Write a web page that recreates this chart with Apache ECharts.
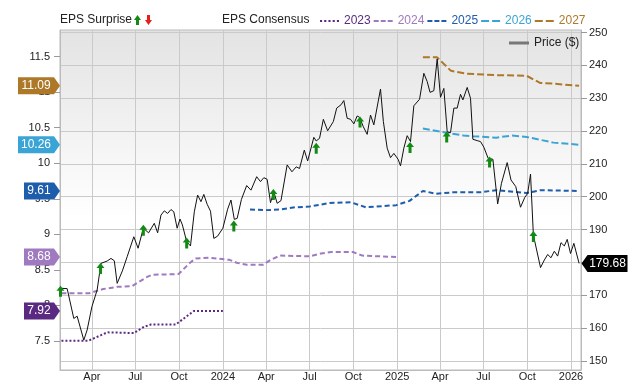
<!DOCTYPE html>
<html>
<head>
<meta charset="utf-8">
<script src="https://cdn.jsdelivr.net/npm/echarts@6.0.0/dist/echarts.min.js"></script>
<style>
    html, body { margin: 0; padding: 0; background: #fff; }
    #chart { width: 640px; height: 382px; }
</style>
</head>
<body>
<div id="chart"></div>
<script>
// axis range and tick labels
var xMin = '2023-01-24', xMax = '2026-01-22';
var epsTicks = [7.5, 8, 8.5, 9, 9.5, 10, 10.5, 11, 11.5];
var priceTicks = [150, 160, 170, 180, 190, 200, 210, 220, 230, 240, 250];
var monthNames = ['Jan', 'Feb', 'Mar', 'Apr', 'May', 'Jun', 'Jul', 'Aug', 'Sep', 'Oct', 'Nov', 'Dec'];
var years = ['2023', '2024', '2025', '2026', '2027'];

// weekly-ish closing price
var priceData = [
    ['2023-01-25', 172.1], ['2023-02-08', 172.0], ['2023-02-22', 162.9], ['2023-03-01', 163.6],
    ['2023-03-15', 156.3], ['2023-03-22', 159.4], ['2023-04-01', 166.5], ['2023-04-12', 171.6],
    ['2023-04-20', 179.7], ['2023-05-03', 180.4], ['2023-05-11', 181.2], ['2023-05-18', 180.5],
    ['2023-05-24', 173.6], ['2023-06-04', 177.4], ['2023-06-14', 181.7], ['2023-06-28', 187.8],
    ['2023-07-07', 184.3], ['2023-07-18', 190.4], ['2023-07-29', 189.0], ['2023-08-10', 191.9],
    ['2023-08-17', 189.0], ['2023-08-24', 194.4], ['2023-08-31', 195.7], ['2023-09-07', 194.9],
    ['2023-09-14', 196.1], ['2023-09-20', 195.4], ['2023-09-27', 190.4], ['2023-10-03', 193.2],
    ['2023-10-08', 191.4], ['2023-10-17', 186.3], ['2023-10-25', 185.0], ['2023-11-02', 195.4],
    ['2023-11-09', 200.5], ['2023-11-16', 198.5], ['2023-11-22', 200.7], ['2023-11-29', 197.7],
    ['2023-12-06', 195.6], ['2023-12-13', 187.3], ['2023-12-21', 188.0], ['2024-01-01', 190.4],
    ['2024-01-11', 196.2], ['2024-01-18', 199.0], ['2024-01-25', 193.1], ['2024-01-31', 193.4],
    ['2024-02-09', 199.2], ['2024-02-20', 203.4], ['2024-02-29', 202.0], ['2024-03-12', 206.1],
    ['2024-03-20', 204.6], ['2024-03-27', 205.8], ['2024-04-03', 205.3], ['2024-04-10', 198.2],
    ['2024-04-17', 201.5], ['2024-04-24', 198.0], ['2024-05-02', 198.8], ['2024-05-15', 209.7],
    ['2024-05-25', 207.6], ['2024-06-03', 209.1], ['2024-06-10', 208.6], ['2024-06-20', 214.2],
    ['2024-06-27', 210.9], ['2024-07-10', 218.1], ['2024-07-15', 217.0], ['2024-07-22', 217.8],
    ['2024-07-30', 223.6], ['2024-08-08', 220.1], ['2024-08-20', 222.9], ['2024-08-27', 227.0],
    ['2024-09-05', 228.0], ['2024-09-11', 229.3], ['2024-09-18', 223.9], ['2024-09-25', 223.6],
    ['2024-10-02', 222.2], ['2024-10-09', 224.6], ['2024-10-14', 224.2], ['2024-10-22', 221.3],
    ['2024-10-30', 219.0], ['2024-11-06', 224.9], ['2024-11-13', 221.9], ['2024-11-27', 232.8],
    ['2024-12-03', 222.9], ['2024-12-11', 214.8], ['2024-12-18', 211.9], ['2024-12-25', 213.2],
    ['2025-01-03', 211.4], ['2025-01-08', 209.4], ['2025-01-15', 214.8], ['2025-01-22', 218.6],
    ['2025-01-29', 216.8], ['2025-02-05', 227.7], ['2025-02-17', 229.7], ['2025-02-26', 237.6],
    ['2025-03-05', 235.1], ['2025-03-11', 231.8], ['2025-03-19', 232.3], ['2025-03-26', 242.0],
    ['2025-04-02', 230.3], ['2025-04-09', 233.0], ['2025-04-16', 219.8], ['2025-04-23', 219.5],
    ['2025-04-30', 227.0], ['2025-05-07', 227.0], ['2025-05-14', 231.2], ['2025-05-19', 229.5],
    ['2025-05-28', 233.3], ['2025-06-04', 230.0], ['2025-06-09', 217.5], ['2025-06-18', 217.1],
    ['2025-06-25', 216.8], ['2025-07-02', 215.1], ['2025-07-11', 211.7], ['2025-07-21', 211.4],
    ['2025-07-31', 197.8], ['2025-08-08', 204.1], ['2025-08-20', 210.4], ['2025-08-28', 205.1],
    ['2025-09-07', 203.1], ['2025-09-17', 196.8], ['2025-09-26', 199.8], ['2025-10-02', 201.0],
    ['2025-10-08', 206.9], ['2025-10-14', 188.3], ['2025-10-29', 178.4], ['2025-11-06', 180.7],
    ['2025-11-13', 182.4], ['2025-11-20', 181.4], ['2025-11-27', 183.4], ['2025-12-04', 181.9],
    ['2025-12-11', 186.0], ['2025-12-18', 185.0], ['2025-12-24', 187.0], ['2025-12-31', 182.7],
    ['2026-01-07', 185.8], ['2026-01-18', 179.68]
];

// earnings beats (green arrows)
var surpriseUp = [
    ['2023-01-25', 171.2], ['2023-04-19', 178.1], ['2023-07-18', 189.8], ['2023-10-17', 185.9],
    ['2024-01-24', 191.1], ['2024-04-16', 200.7], ['2024-07-15', 214.8], ['2024-10-15', 222.8],
    ['2025-01-28', 215.0], ['2025-04-15', 218.2], ['2025-07-14', 210.6], ['2025-10-14', 187.9]
];

// EPS consensus for each fiscal year
var eps2023 = [
    ['2023-01-27', 7.50], ['2023-03-24', 7.50], ['2023-04-20', 7.58], ['2023-05-03', 7.62],
    ['2023-06-28', 7.61], ['2023-07-20', 7.70], ['2023-08-03', 7.73], ['2023-09-24', 7.73],
    ['2023-10-20', 7.86], ['2023-11-01', 7.92], ['2024-01-01', 7.92]
];
var eps2024 = [
    ['2023-01-27', 8.17], ['2023-03-26', 8.17], ['2023-04-25', 8.23], ['2023-05-24', 8.26],
    ['2023-06-24', 8.27], ['2023-07-26', 8.40], ['2023-08-05', 8.43], ['2023-09-30', 8.44],
    ['2023-10-24', 8.60], ['2023-11-05', 8.66], ['2023-12-02', 8.67], ['2024-01-15', 8.64],
    ['2024-01-30', 8.60], ['2024-02-20', 8.57], ['2024-03-25', 8.57], ['2024-04-10', 8.64],
    ['2024-04-30', 8.70], ['2024-07-01', 8.69], ['2024-07-25', 8.73], ['2024-08-15', 8.75],
    ['2024-09-30', 8.75], ['2024-10-20', 8.70], ['2024-12-31', 8.68]
];
var eps2025 = [
    ['2024-02-27', 9.35], ['2024-04-01', 9.34], ['2024-04-30', 9.35], ['2024-06-01', 9.38],
    ['2024-07-01', 9.39], ['2024-08-12', 9.44], ['2024-09-26', 9.45], ['2024-10-27', 9.38],
    ['2024-12-30', 9.41], ['2025-01-27', 9.47], ['2025-02-24', 9.61], ['2025-03-24', 9.57],
    ['2025-04-28', 9.59], ['2025-06-23', 9.59], ['2025-07-28', 9.62], ['2025-09-30', 9.58],
    ['2025-10-28', 9.62], ['2026-01-18', 9.61]
];
var eps2026 = [
    ['2025-02-24', 10.49], ['2025-04-15', 10.43], ['2025-05-20', 10.39], ['2025-06-09', 10.38],
    ['2025-07-28', 10.36], ['2025-08-30', 10.39], ['2025-09-30', 10.37], ['2025-11-25', 10.29],
    ['2026-01-18', 10.26]
];
var eps2027 = [
    ['2025-02-24', 11.49], ['2025-03-26', 11.49], ['2025-04-24', 11.30], ['2025-05-26', 11.26],
    ['2025-07-28', 11.24], ['2025-09-30', 11.23], ['2025-10-28', 11.13], ['2025-11-25', 11.12],
    ['2026-01-18', 11.09]
];

var epsSeries = [eps2023, eps2024, eps2025, eps2026, eps2027];
var yearColors = ['#5a2a82', '#a07ac0', '#1d5dac', '#3aa4d6', '#ae7829'];
var yearDash = [[2, 2], [5, 3], [5, 3], [7, 3], [7, 3]];
var legendIcons = [
    'path://M0,0h2v2h-2zM4,0h2v2h-2zM8,0h2v2h-2zM12,0h2v2h-2zM16,0h2v2h-2z',
    'path://M0,0h5v2h-5zM7,0h5v2h-5zM14,0h5v2h-5z',
    'path://M0,0h5v2h-5zM7,0h5v2h-5zM14,0h5v2h-5z',
    'path://M0,0h8v2h-8zM11,0h8v2h-8z',
    'path://M0,0h8v2h-8zM11,0h8v2h-8z'
];
var upArrow = 'M4,0L8,5L5.5,5L5.5,11L2.5,11L2.5,5L0,5Z';
var green = '#138a13';

// small arrow polygon for the "EPS Surprise" key
function arrowPoints(x, y, up) {
    var pts = [[3.5, 0], [7, 5], [5, 5], [5, 10], [2, 10], [2, 5], [0, 5]];
    return pts.map(function (p) {
        return [x + p[0], up ? y + p[1] : y + 10 - p[1]];
    });
}

var dom = document.getElementById('chart');
var myChart = echarts.init(dom, null, { renderer: 'canvas' });

var series = [];
epsSeries.forEach(function (d, i) {
    series.push({
        name: years[i],
        type: 'line',
        yAxisIndex: 0,
        data: d,
        symbol: 'none',
        color: yearColors[i],
        lineStyle: { width: 2, type: yearDash[i] },
        z: 2
    });
});
series.push({
    name: 'Price ($)',
    type: 'line',
    yAxisIndex: 1,
    data: priceData,
    symbol: 'none',
    color: '#111',
    lineStyle: { width: 1 },
    z: 3
});
series.push({
    name: 'surprise',
    type: 'scatter',
    yAxisIndex: 1,
    data: surpriseUp,
    symbol: 'path://' + upArrow,
    symbolSize: [8, 11],
    itemStyle: { color: green, opacity: 1 },
    z: 4
});

// value badges on the left axis (last consensus of each year)
epsSeries.forEach(function (d, i) {
    var last = d[d.length - 1][1];
    var txt = last.toFixed(2);
    var w = 12 + txt.length * 6;
    series.push({
        type: 'scatter',
        yAxisIndex: 0,
        clip: false,
        silent: true,
        z: 6,
        data: [[xMin, last]],
        symbol: 'path://M0,0L' + (w - 6) + ',0L' + w + ',8.5L' + (w - 6) + ',17L0,17Z',
        symbolSize: [w, 17],
        symbolKeepAspect: false,
        symbolOffset: [-w / 2, 0],
        itemStyle: { color: yearColors[i], opacity: 1 },
        label: {
            show: true, position: 'inside', formatter: txt,
            color: '#fff', fontSize: 12, offset: [-3, 0]
        }
    });
});

// last price badge on the right axis
var lastPrice = priceData[priceData.length - 1][1];
series.push({
    type: 'scatter',
    yAxisIndex: 1,
    clip: false,
    silent: true,
    z: 6,
    data: [[xMax, lastPrice]],
    symbol: 'path://M6,0L46,0L46,17L6,17L0,8.5Z',
    symbolSize: [46, 17],
    symbolKeepAspect: false,
    symbolOffset: [23.5, 0],
    itemStyle: { color: '#000', opacity: 1 },
    label: {
        show: true, position: 'inside', formatter: lastPrice.toFixed(2),
        color: '#fff', fontSize: 12, offset: [3, 0]
    }
});

var option = {
    animation: false,
    textStyle: { fontFamily: 'Arial' },
    grid: {
        left: 60, right: 59, top: 30, bottom: 12,
        outerBoundsMode: 'none',
        show: true,
        borderColor: '#bbb',
        borderWidth: 1,
        backgroundColor: new echarts.graphic.LinearGradient(0, 0, 0, 1, [
            { offset: 0, color: '#e3e3e3' },
            { offset: 0.55, color: '#ffffff' }
        ])
    },
    graphic: [
        { type: 'text', left: 60, top: 14, style: { text: 'EPS Surprise', fontSize: 12, fontFamily: 'Arial', fill: '#222' } },
        { type: 'polygon', shape: { points: arrowPoints(134, 15, true) }, style: { fill: green } },
        { type: 'polygon', shape: { points: arrowPoints(145, 15, false) }, style: { fill: '#e8201c' } },
        { type: 'text', left: 222, top: 14, style: { text: 'EPS Consensus', fontSize: 12, fontFamily: 'Arial', fill: '#222' } }
    ],
    legend: [{
        data: years.map(function (y, i) {
            return { name: y, icon: legendIcons[i], textStyle: { color: yearColors[i] } };
        }),
        left: 315, top: 10,
        itemWidth: 19, itemHeight: 3, itemGap: 3,
        selectedMode: false,
        itemStyle: { borderWidth: 0 },
        textStyle: { fontSize: 12, fontFamily: 'Arial' }
    }, {
        data: [{ name: 'Price ($)', icon: 'rect', itemStyle: { color: '#777', borderWidth: 0 } }],
        left: 504, top: 32,
        itemWidth: 20, itemHeight: 3,
        selectedMode: false,
        textStyle: { fontSize: 12, color: '#222', fontFamily: 'Arial' }
    }],
    xAxis: {
        type: 'time',
        min: xMin,
        max: xMax,
        splitNumber: 10,
        axisLine: { lineStyle: { color: '#bbb' } },
        axisTick: { show: false },
        axisLabel: {
            fontSize: 11, color: '#222', margin: 1,
            formatter: function (v) {
                var d = new Date(v);
                return d.getMonth() === 0 ? String(d.getFullYear()) : monthNames[d.getMonth()];
            }
        },
        splitLine: { show: true, lineStyle: { color: '#cacaca' } }
    },
    yAxis: [{
        type: 'value',
        position: 'left',
        min: 7.09,
        max: 11.875,
        axisLine: { show: true, lineStyle: { color: '#bbb' } },
        axisTick: { show: true, length: 6, customValues: epsTicks, lineStyle: { color: '#999' } },
        axisLabel: { customValues: epsTicks, fontSize: 11, color: '#222', margin: 10 },
        splitLine: { show: false }
    }, {
        type: 'value',
        position: 'right',
        min: 147.2,
        max: 250.8,
        axisLine: { show: true, lineStyle: { color: '#bbb' } },
        axisTick: { show: true, length: 6, customValues: priceTicks, lineStyle: { color: '#999' } },
        axisLabel: { customValues: priceTicks, fontSize: 11, color: '#222', margin: 8 },
        splitLine: { show: true, lineStyle: { color: '#cacaca' } }
    }],
    series: series
};
myChart.setOption(option);
</script>
</body>
</html>
